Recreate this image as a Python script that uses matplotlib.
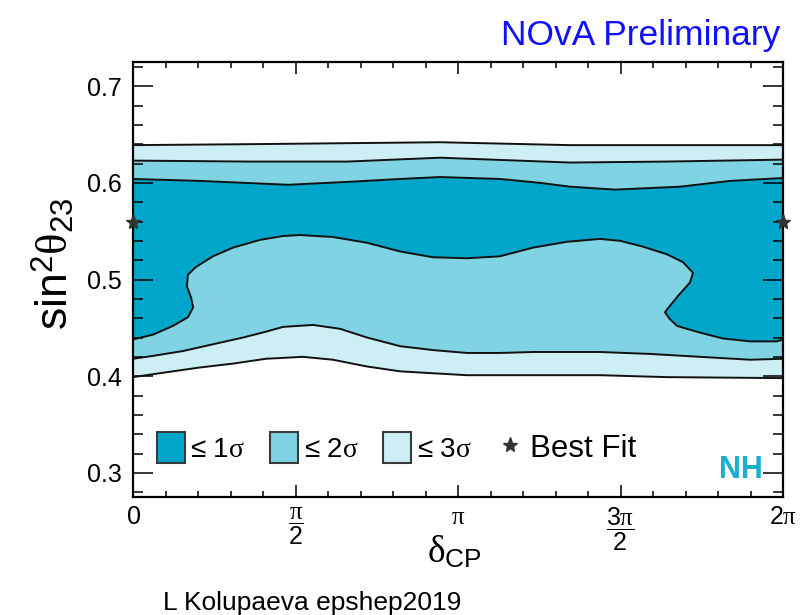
import numpy as np
import matplotlib
matplotlib.use('Agg')
import matplotlib.pyplot as plt
from matplotlib.patches import Patch
from matplotlib.lines import Line2D
from matplotlib.ticker import FixedLocator, MultipleLocator
from matplotlib.transforms import Bbox, TransformedBbox

plt.rcParams['font.family'] = ['Liberation Sans', 'DejaVu Sans']
plt.rcParams['mathtext.fontset'] = 'custom'
plt.rcParams['mathtext.rm'] = 'Liberation Serif'
plt.rcParams['mathtext.sf'] = 'Liberation Sans'
plt.rcParams['mathtext.it'] = 'Liberation Serif:italic'

# contour boundaries, delta_CP in units of pi
up3_x = [0, 0.36, 0.945, 1.345, 1.70, 2.0]
up3_y = [0.639, 0.640, 0.642, 0.639, 0.639, 0.639]

up2_x = [0, 0.36, 0.66, 0.945, 1.345, 1.64, 2.0]
up2_y = [0.623, 0.622, 0.622, 0.626, 0.621, 0.622, 0.624]

up1_x = [0, 0.206, 0.477, 0.662, 0.822, 0.945, 1.129, 1.252, 1.345,
         1.483, 1.683, 1.837, 2.0]
up1_y = [0.604, 0.602, 0.598, 0.601, 0.604, 0.606, 0.604, 0.600, 0.596,
         0.593, 0.596, 0.602, 0.605]

# lower edge of the 1 sigma region (folds back on itself)
low1_x = [0, 0.062, 0.123, 0.169, 0.185, 0.179, 0.166, 0.169, 0.194,
          0.246, 0.308, 0.391, 0.462, 0.514, 0.615, 0.720, 0.822, 0.923,
          1.028, 1.129, 1.231, 1.335, 1.437, 1.499, 1.569, 1.643, 1.692,
          1.723, 1.714, 1.677, 1.643, 1.637, 1.652, 1.674, 1.745, 1.815,
          1.899, 1.982, 2.0]
low1_y = [0.438, 0.443, 0.452, 0.461, 0.471, 0.481, 0.493, 0.505, 0.513,
          0.524, 0.533, 0.541, 0.545, 0.546, 0.544, 0.538, 0.529, 0.523,
          0.522, 0.524, 0.533, 0.539, 0.542, 0.540, 0.534, 0.526, 0.518,
          0.507, 0.497, 0.483, 0.469, 0.466, 0.459, 0.452, 0.445, 0.439,
          0.436, 0.436, 0.438]

low2_x = [0, 0.062, 0.154, 0.246, 0.339, 0.409, 0.462, 0.554, 0.637,
          0.720, 0.822, 0.923, 1.028, 1.129, 1.231, 1.437, 1.591, 1.745,
          1.899, 2.0]
low2_y = [0.418, 0.421, 0.426, 0.433, 0.440, 0.446, 0.451, 0.453, 0.449,
          0.440, 0.431, 0.427, 0.424, 0.424, 0.425, 0.425, 0.423, 0.420,
          0.417, 0.418]

low3_x = [0, 0.102, 0.206, 0.308, 0.409, 0.523, 0.615, 0.720, 0.822,
          0.923, 1.028, 1.129, 1.437, 1.643, 2.0]
low3_y = [0.399, 0.404, 0.409, 0.413, 0.418, 0.420, 0.417, 0.410, 0.405,
          0.403, 0.401, 0.401, 0.401, 0.399, 0.398]

best_x = [0, 2.0]
best_y = [0.560, 0.560]

levels = ['\u2264 1$\\mathrm{\\sigma}$', '\u2264 2$\\mathrm{\\sigma}$',
          '\u2264 3$\\mathrm{\\sigma}$']
colors = ['#00a6c9', '#7fd3e3', '#cdeef5']

tick_pos = [0, 0.5, 1.0, 1.5, 2.0]
tick_labels = [r'$\mathsf{0}$', r'$\dfrac{\mathrm{\pi}}{\mathsf{2}}$',
               r'$\mathrm{\pi}$', r'$\dfrac{\mathsf{3}\mathrm{\pi}}{\mathsf{2}}$',
               r'$\mathsf{2}\mathrm{\pi}$']


def band(ux, uy, lx, ly):
    xs = np.concatenate([np.array(ux), np.array(lx)[::-1]]) * np.pi
    ys = np.concatenate([np.array(uy), np.array(ly)[::-1]])
    return xs, ys


fig = plt.figure(figsize=(8.08, 6.15), dpi=100)
ax = fig.add_axes([133 / 808, 118 / 615, 650 / 808, 435 / 615])

for (ux, uy, lx, ly), c in zip([(up3_x, up3_y, low3_x, low3_y),
                                (up2_x, up2_y, low2_x, low2_y),
                                (up1_x, up1_y, low1_x, low1_y)],
                               colors[::-1]):
    xs, ys = band(ux, uy, lx, ly)
    ax.fill(xs, ys, color=c, lw=0)

for cx, cy in [(up3_x, up3_y), (up2_x, up2_y), (up1_x, up1_y),
               (low1_x, low1_y), (low2_x, low2_y), (low3_x, low3_y)]:
    ax.plot(np.array(cx) * np.pi, cy, color='#111111', lw=1.4,
            solid_joinstyle='round')

ax.plot(np.array(best_x) * np.pi, best_y, ls='none', marker='*',
        color='#333333', ms=11, clip_on=False, zorder=5)

ax.set_xlim(0, 2 * np.pi)
ax.set_ylim(0.275, 0.725)

ax.xaxis.set_major_locator(FixedLocator(np.array(tick_pos) * np.pi))
ax.set_xticklabels(tick_labels)
ax.xaxis.set_minor_locator(MultipleLocator(np.pi / 10))
ax.yaxis.set_major_locator(FixedLocator([0.3, 0.4, 0.5, 0.6, 0.7]))
ax.yaxis.set_minor_locator(MultipleLocator(0.02))
ax.set_yticklabels(['0.3', '0.4', '0.5', '0.6', '0.7'])

ax.tick_params(axis='both', which='both', direction='in', top=True,
               right=True, width=1.1, labelsize=18, colors='black')
ax.tick_params(axis='x', which='major', length=8.6, pad=6)
ax.tick_params(axis='x', which='minor', length=4.3)
ax.tick_params(axis='y', which='major', length=14.4, pad=8)
ax.tick_params(axis='y', which='minor', length=7.2)
for s in ax.spines.values():
    s.set_linewidth(1.6)

handles = [Patch(facecolor=c, edgecolor='#3a3a3a', lw=1.5, joinstyle='round')
           for c in colors]
handles.append(Line2D([], [], ls='none', marker='*', color='#333333', ms=11))
leg = ax.legend(handles, levels + ['Best Fit'], ncol=4, frameon=False,
                loc='center left', bbox_to_anchor=(24 / 650, 49 / 435),
                borderpad=0, borderaxespad=0, fontsize=20, handlelength=1.0,
                handleheight=1.3, handletextpad=0.2, columnspacing=0.9)
leg.get_texts()[3].set_fontsize(22.5)

ax.text(0.969, 0.044, 'NH', transform=ax.transAxes, ha='right',
        va='baseline', color='#1aaed0', fontsize=22, fontweight='bold')

fig.text(54 / 808, 1 - 264 / 615,
         r'$\mathsf{sin}^{\mathsf{2}}\mathrm{\theta}_{\mathsf{23}}$',
         rotation=90, ha='center', va='center', fontsize=32)

xl = fig.text(427 / 808, 1 - 563 / 615,
              r'$\mathrm{\delta}_{\mathsf{CP}}$', ha='left',
              va='baseline', fontsize=27)
xl.set_clip_box(TransformedBbox(Bbox([[0, 38 / 615], [1, 1]]),
                                fig.transFigure))

fig.text(780 / 808, 1 - 45 / 615, 'NOvA Preliminary', ha='right',
         va='baseline', color='#1010ff', fontsize=25.5)
fig.text(163 / 808, 1 - 610 / 615, 'L Kolupaeva epshep2019', ha='left',
         va='baseline', color='black', fontsize=19)

fig.savefig('out.png', dpi=100)
